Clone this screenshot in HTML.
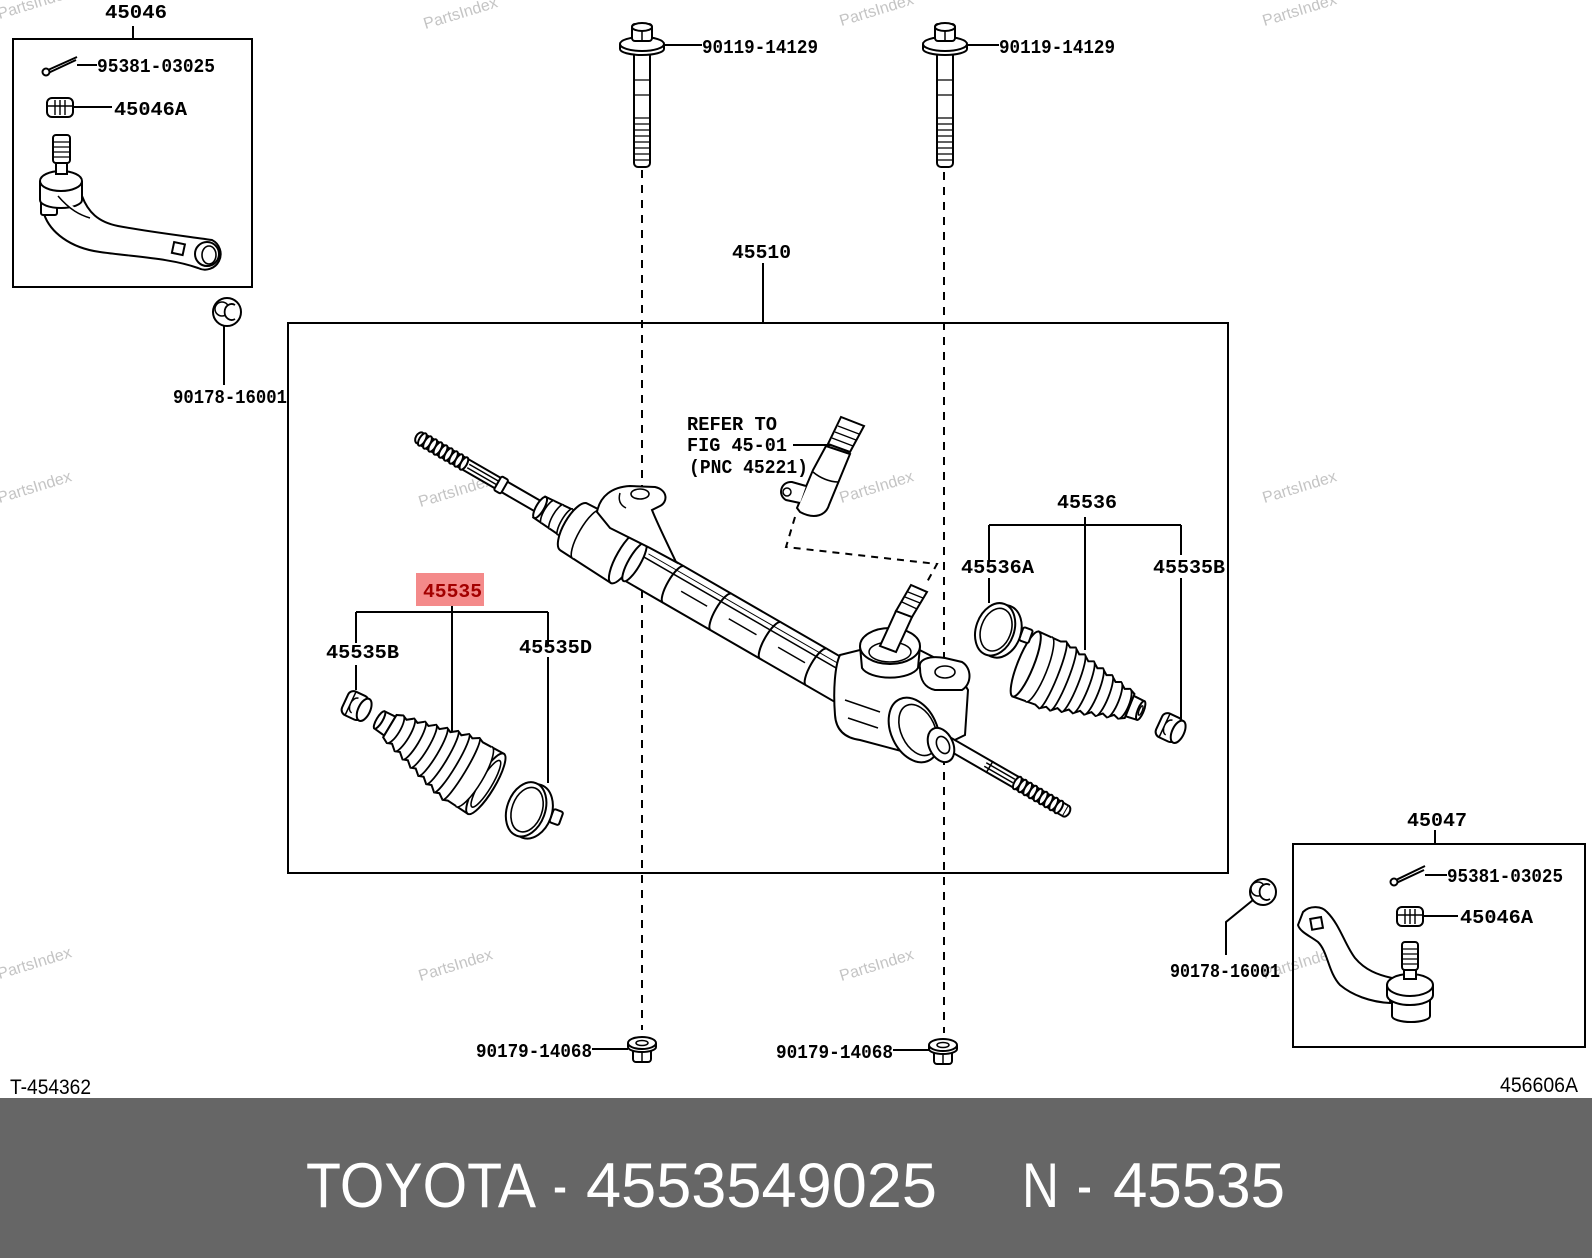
<!DOCTYPE html>
<html><head><meta charset="utf-8"><style>
html,body{margin:0;padding:0;background:#fff;}
body{width:1592px;height:1258px;overflow:hidden;position:relative;}
svg{position:absolute;left:0;top:0;}
.l{font-family:"Liberation Mono",monospace;font-weight:bold;font-size:19px;fill:#000;}
.w{font-family:"Liberation Sans",sans-serif;font-size:16px;fill:#c4c4c4;}
</style></head><body>
<svg width="1592" height="1258" viewBox="0 0 1592 1258" xmlns="http://www.w3.org/2000/svg">
<rect x="0" y="0" width="1592" height="1258" fill="#fff"/>

<!-- watermarks -->
<g class="w" text-anchor="middle">
<text transform="translate(36,8) rotate(-17)">PartsIndex</text>
<text transform="translate(462,18) rotate(-17)">PartsIndex</text>
<text transform="translate(878,15) rotate(-17)">PartsIndex</text>
<text transform="translate(1301,15) rotate(-17)">PartsIndex</text>
<text transform="translate(36,492) rotate(-17)">PartsIndex</text>
<text transform="translate(457,496) rotate(-17)">PartsIndex</text>
<text transform="translate(878,492) rotate(-17)">PartsIndex</text>
<text transform="translate(1301,492) rotate(-17)">PartsIndex</text>
<text transform="translate(36,968) rotate(-17)">PartsIndex</text>
<text transform="translate(457,970) rotate(-17)">PartsIndex</text>
<text transform="translate(878,970) rotate(-17)">PartsIndex</text>
<text transform="translate(1301,968) rotate(-17)">PartsIndex</text>
</g>

<g stroke="#000" stroke-width="2" fill="none">
<!-- boxes -->
<rect x="13" y="39" width="239" height="248"/>
<rect x="288" y="323" width="940" height="550"/>
<rect x="1293" y="844" width="292" height="203"/>
<!-- dashed bolt lines -->
<path d="M642,170 L642,1030" stroke-dasharray="8,7"/>
<path d="M944,172 L944,1033" stroke-dasharray="8,7"/>
<!-- leaders -->
<path d="M133,26 L133,39"/>
<path d="M77,65 L97,65"/>
<path d="M73,107 L112,107"/>
<path d="M224,326 L224,385"/>
<path d="M664,45 L702,45"/>
<path d="M967,45 L999,45"/>
<path d="M763,263 L763,323"/>
<path d="M793,445 L830,445"/>
<path d="M795,517 L786,547 L937,564 L927,582" stroke-dasharray="7,6"/>
<path d="M356,612 L548,612 M452,606 L452,733 M356,612 L356,643 M356,665 L356,690 M548,612 L548,645 M548,657 L548,783"/>
<path d="M989,525 L1181,525 M1085,517 L1085,650 M989,525 L989,560 M989,578 L989,603 M1181,525 L1181,555 M1181,578 L1181,720"/>
<path d="M1435,830 L1435,844"/>
<path d="M1425,875 L1447,875"/>
<path d="M1423,916 L1458,916"/>
<path d="M1226,955 L1226,922 L1253,900"/>
<path d="M592,1049 L628,1049"/>
<path d="M893,1050 L930,1050"/>
</g>

<!-- BOLTS -->
<g stroke="#000" stroke-width="2" fill="#fff">
<g transform="translate(642,0)">
 <rect x="-8" y="50" width="16" height="117" rx="4"/>
 <path d="M-8,118 L8,118 M-8,124 L8,124 M-8,130 L8,130 M-8,136 L8,136 M-8,142 L8,142 M-8,148 L8,148 M-8,154 L8,154 M-8,160 L8,160 M-8,80 L8,80 M-8,95 L8,95" stroke-width="1.3"/>
 <path d="M-22,44 L-22,49 A22,6 0 0 0 22,49 L22,44"/>
 <ellipse cx="0" cy="44" rx="22" ry="7"/>
 <rect x="-10" y="24" width="20" height="17" rx="3"/>
 <ellipse cx="0" cy="27" rx="10" ry="4"/>
 <path d="M0,31 L0,40" stroke-width="1.5"/>
</g>
<g transform="translate(945,0)">
 <rect x="-8" y="50" width="16" height="117" rx="4"/>
 <path d="M-8,118 L8,118 M-8,124 L8,124 M-8,130 L8,130 M-8,136 L8,136 M-8,142 L8,142 M-8,148 L8,148 M-8,154 L8,154 M-8,160 L8,160 M-8,80 L8,80 M-8,95 L8,95" stroke-width="1.3"/>
 <path d="M-22,44 L-22,49 A22,6 0 0 0 22,49 L22,44"/>
 <ellipse cx="0" cy="44" rx="22" ry="7"/>
 <rect x="-10" y="24" width="20" height="17" rx="3"/>
 <ellipse cx="0" cy="27" rx="10" ry="4"/>
 <path d="M0,31 L0,40" stroke-width="1.5"/>
</g>
<!-- bottom nuts -->
<g transform="translate(642,0)">
 <rect x="-9" y="1046" width="18" height="16" rx="3"/>
 <path d="M-14,1043 L-14,1047 A14,5 0 0 0 14,1047 L14,1043"/>
 <ellipse cx="0" cy="1043" rx="14" ry="6"/>
 <ellipse cx="0" cy="1043" rx="6" ry="2.5" stroke-width="1.5"/>
 <path d="M0,1053 L0,1062" stroke-width="1.5"/>
</g>
<g transform="translate(943,2)">
 <rect x="-9" y="1046" width="18" height="16" rx="3"/>
 <path d="M-14,1043 L-14,1047 A14,5 0 0 0 14,1047 L14,1043"/>
 <ellipse cx="0" cy="1043" rx="14" ry="6"/>
 <ellipse cx="0" cy="1043" rx="6" ry="2.5" stroke-width="1.5"/>
 <path d="M0,1053 L0,1062" stroke-width="1.5"/>
</g>

<!-- washers -->
<circle cx="227" cy="312" r="14"/>
<circle cx="222" cy="309" r="7" stroke-width="1.5"/>
<path d="M235,305 A7,8 0 1 0 235,319" stroke-width="1.8"/>
<circle cx="1263" cy="892" r="13"/>
<circle cx="1258" cy="889" r="7" stroke-width="1.5"/>
<path d="M1270,885 A7,8 0 1 0 1270,899" stroke-width="1.8"/>

<!-- cotter pins & small nuts -->
<path d="M48,70 L77,57 M46,74 L76,60" stroke-width="2"/>
<circle cx="46" cy="72" r="3.5"/>
<rect x="47" y="98" width="26" height="19" rx="5"/>
<path d="M55,100 L55,115 M60,100 L60,115 M65,100 L65,115 M48,106 L72,106" stroke-width="1.4"/>
<path d="M1396,880 L1425,866 M1394,884 L1424,870" stroke-width="2"/>
<circle cx="1394" cy="882" r="3.5"/>
<rect x="1397" y="907" width="26" height="19" rx="5"/>
<path d="M1405,909 L1405,924 M1410,909 L1410,924 M1415,909 L1415,924 M1398,915 L1422,915" stroke-width="1.4"/>

<!-- LEFT TIE ROD END (45046) -->
<path d="M44,200 L44,214 C50,232 70,248 100,252 C135,257 170,258 198,268 A14,14 0 0 0 212,240 C185,236 150,232 118,226 C98,222 88,212 82,196 Z"/>
<rect x="41" y="193" width="16" height="22" rx="2"/>
<path d="M40,181 L40,200 A21,8 0 0 0 82,200 L82,181"/>
<ellipse cx="61" cy="181" rx="21" ry="10"/>
<path d="M58,196 C70,210 80,215 90,218" stroke-width="1.5"/>
<rect x="56" y="158" width="11" height="16"/>
<rect x="53" y="135" width="17" height="28" rx="3"/>
<path d="M53,142 L70,142 M53,147 L70,147 M53,152 L70,152 M53,157 L70,157" stroke-width="1.3"/>
<circle cx="207" cy="254" r="12"/>
<ellipse cx="209" cy="255" rx="7" ry="9" stroke-width="1.6"/>
<rect x="173" y="243" width="11" height="11" transform="rotate(12 178 248)"/>

<!-- RIGHT TIE ROD END (45047) -->
<path d="M1303,912 C1310,905 1322,906 1327,912 C1340,925 1345,945 1355,958 C1365,970 1378,975 1392,978 L1390,1003 C1370,1002 1352,995 1340,985 C1328,972 1328,952 1318,942 C1310,936 1300,932 1298,925 Z"/>
<rect x="1311" y="918" width="11" height="11" transform="rotate(-10 1316 923)"/>
<path d="M1392,996 L1392,1016 A19,6 0 0 0 1430,1016 L1430,996"/>
<path d="M1387,985 L1387,995 A23,10 0 0 0 1433,995 L1433,985"/>
<ellipse cx="1410" cy="985" rx="23" ry="11"/>
<rect x="1404" y="965" width="12" height="14"/>
<rect x="1402" y="942" width="16" height="28" rx="3"/>
<path d="M1402,949 L1418,949 M1402,954 L1418,954 M1402,959 L1418,959 M1402,964 L1418,964" stroke-width="1.3"/>

<!-- RACK: left rod, housing, tube -->
<g transform="translate(418,437) rotate(30)">
 <path d="M2,-6 L165,-6 L165,6 L2,6 Z"/>
 <path d="M2,-6 A4,6 0 0 0 2,6"/>
 <ellipse cx="5" cy="0" rx="3" ry="7"/><ellipse cx="11" cy="0" rx="3" ry="7"/><ellipse cx="17" cy="0" rx="3" ry="7"/><ellipse cx="23" cy="0" rx="3" ry="7"/><ellipse cx="29" cy="0" rx="3" ry="7"/><ellipse cx="35" cy="0" rx="3" ry="7"/><ellipse cx="41" cy="0" rx="3" ry="7"/><ellipse cx="47" cy="0" rx="3" ry="7"/><ellipse cx="53" cy="0" rx="3" ry="7"/>
 <path d="M58,-2 L92,-2 M58,2 L92,2" stroke-width="1.5"/>
 <rect x="92" y="-8" width="8" height="16" rx="2"/>
 <path d="M140,-12 L178,-15 L178,15 L140,12 Z"/>
 <ellipse cx="141" cy="0" rx="4" ry="12"/>
 <path d="M150,-13 A4,13 0 0 0 150,13 M160,-14 A4,14 0 0 0 160,14 M170,-15 A4,15 0 0 0 170,15" stroke-width="1.6"/>
 <path d="M180,-27 L240,-30 L240,30 L180,27 A10,27 0 0 1 180,-27 Z"/>
 <path d="M195,-28 A8,28 0 0 0 195,28" stroke-width="1.6"/>
 <rect x="240" y="-21" width="290" height="42"/>
 <ellipse cx="240" cy="0" rx="9" ry="30"/>
 <ellipse cx="250" cy="0" rx="6" ry="22"/>
 <path d="M295,-21 A6,21 0 0 0 295,21 M350,-21 A6,21 0 0 0 350,21 M407,-21 A6,21 0 0 0 407,21 M460,-21 A6,21 0 0 0 460,21" />
 <path d="M255,-9 L525,-9" stroke-width="1.5"/>
 <path d="M258,-14 L520,-14" stroke-width="1"/>
 <path d="M305,2 L335,2 M360,2 L392,2 M417,2 L448,2" stroke-width="1.5"/>
</g>
<!-- left mount bracket -->
<path d="M597,512 C600,496 612,487 630,486 L655,487 C668,490 668,502 660,506 L652,510 C658,525 668,545 676,562 L650,548 L610,528 Z"/>
<ellipse cx="640" cy="494" rx="9" ry="5" stroke-width="1.6"/>
<path d="M620,493 C618,500 620,505 626,508" stroke-width="1.5"/>

<!-- right gear housing -->
<path d="M840,655 C835,665 833,690 835,715 C836,730 845,738 860,740 L905,752 L930,752 L965,735 L968,690 L955,668 L900,640 Z"/>
<path d="M845,700 L880,712 M848,718 L878,728" stroke-width="1.5"/>
<path d="M920,668 C918,660 928,655 945,658 L962,662 C972,668 972,684 962,690 L935,690 C925,688 920,680 920,668 Z"/>
<ellipse cx="945" cy="672" rx="10" ry="6" stroke-width="1.6"/>
<path d="M860,646 L862,668 A29,13 0 0 0 918,668 L920,646"/>
<ellipse cx="890" cy="646" rx="30" ry="18"/>
<ellipse cx="890" cy="652" rx="21" ry="10" stroke-width="1.5"/>
<path d="M880,646 L896,652 L912,617 L896,611 Z"/>
<path d="M896,611 L912,617 L927,592 L911,585 Z"/>
<path d="M902,602 L917,609 M905,597 L920,603 M908,592 L923,598" stroke-width="1.3"/>
<ellipse cx="914" cy="730" rx="23" ry="34" transform="rotate(-25 914 730)"/>
<ellipse cx="918" cy="730" rx="17" ry="27" transform="rotate(-25 918 730)" stroke-width="1.6"/>

<!-- right rod -->
<g transform="translate(418,437) rotate(30)">
 <path d="M598,-6 L748,-6 L748,6 L598,6 Z"/>
 <path d="M748,-6 A4,6 0 0 1 748,6"/>
 <ellipse cx="692" cy="0" rx="3" ry="7"/><ellipse cx="698" cy="0" rx="3" ry="7"/><ellipse cx="704" cy="0" rx="3" ry="7"/><ellipse cx="710" cy="0" rx="3" ry="7"/><ellipse cx="716" cy="0" rx="3" ry="7"/><ellipse cx="722" cy="0" rx="3" ry="7"/><ellipse cx="728" cy="0" rx="3" ry="7"/><ellipse cx="734" cy="0" rx="3" ry="7"/><ellipse cx="740" cy="0" rx="3" ry="7"/>
 <path d="M655,-2 L688,-2 M655,2 L688,2" stroke-width="1.5"/>
 <path d="M660,-7 L660,7" stroke-width="1.5"/>
</g>
<ellipse cx="941" cy="745" rx="12" ry="18" transform="rotate(-25 941 745)"/>
<ellipse cx="943" cy="745" rx="6" ry="9" transform="rotate(-25 943 745)" stroke-width="1.6"/>

<!-- pinion (refer to fig) -->
<path d="M826,446 L850,454 L829,505 C826,515 815,520 800,512 L797,508 L813,470 Z"/>
<path d="M813,472 C820,478 830,482 838,482" stroke-width="1.5"/>
<path d="M828,444 L850,452 L864,426 L841,417 Z"/>
<path d="M835,432 L856,440 M838,426 L859,434 M832,438 L853,446" stroke-width="1.3"/>
<path d="M806,486 L792,482 C781,481 777,495 786,500 L800,503" />
<circle cx="787" cy="492" r="4" stroke-width="1.5"/>

<!-- LEFT BOOT -->
<g transform="translate(383,722) rotate(31)">
 <path d="M-4,-10 L8,-11 L8,11 L-4,10 Z"/>
 <ellipse cx="-4" cy="0" rx="3" ry="10"/>
 <path d="M8,-13 L14,-16 L19,-14 L25,-19 L30,-17 L36,-22 L41,-20 L47,-25 L52,-23 L58,-28 L63,-26 L69,-31 L74,-29 L80,-34 L85,-32 L91,-36 L96,-34 L120,-35 L120,35 L96,34 L91,36 L85,32 L80,34 L74,29 L69,31 L63,26 L58,28 L52,23 L47,25 L41,20 L36,22 L30,17 L25,19 L19,14 L14,16 L8,13 Z"/>
 <path d="M14,-16 A5,16 0 0 1 14,16 M25,-19 A5,19 0 0 1 25,19 M36,-22 A5,22 0 0 1 36,22 M47,-25 A5,25 0 0 1 47,25 M58,-28 A5,28 0 0 1 58,28 M69,-31 A5,31 0 0 1 69,31 M80,-34 A5,34 0 0 1 80,34 M91,-36 A5,36 0 0 1 91,36" stroke-width="1.8"/>
 <ellipse cx="120" cy="0" rx="9" ry="35"/>
 <ellipse cx="120" cy="0" rx="6" ry="27" stroke-width="1.6"/>
 <path d="M106,-35 A9,35 0 0 1 106,35" stroke-width="1.6"/>
</g>
<!-- RIGHT BOOT -->
<g transform="translate(1137,709) rotate(202)">
 <path d="M-4,-10 L8,-11 L8,11 L-4,10 Z"/>
 <ellipse cx="-4" cy="0" rx="3" ry="10"/>
 <ellipse cx="-4" cy="0" rx="1.5" ry="5" stroke-width="1.3"/>
 <path d="M8,-13 L14,-16 L19,-14 L25,-19 L30,-17 L36,-22 L41,-20 L47,-25 L52,-23 L58,-28 L63,-26 L69,-31 L74,-29 L80,-34 L85,-32 L91,-36 L96,-34 L120,-35 L120,35 L96,34 L91,36 L85,32 L80,34 L74,29 L69,31 L63,26 L58,28 L52,23 L47,25 L41,20 L36,22 L30,17 L25,19 L19,14 L14,16 L8,13 Z"/>
 <path d="M14,-16 A5,16 0 0 0 14,16 M25,-19 A5,19 0 0 0 25,19 M36,-22 A5,22 0 0 0 36,22 M47,-25 A5,25 0 0 0 47,25 M58,-28 A5,28 0 0 0 58,28 M69,-31 A5,31 0 0 0 69,31 M80,-34 A5,34 0 0 0 80,34 M91,-36 A5,36 0 0 0 91,36" stroke-width="1.8"/>
 <ellipse cx="120" cy="0" rx="8" ry="35"/>
 <path d="M106,-35 A8,35 0 0 0 106,35" stroke-width="1.6"/>
</g>

<!-- clamps -->
<g transform="translate(528,810) rotate(20)">
 <rect x="24" y="-10" width="10" height="14" rx="2"/>
 <ellipse cx="4" cy="0" rx="20" ry="28"/>
 <ellipse cx="-2" cy="0" rx="19" ry="28"/>
 <ellipse cx="-1" cy="0" rx="15" ry="23" stroke-width="1.6"/>
</g>
<g transform="translate(997,630) rotate(20)">
 <rect x="24" y="-12" width="10" height="14" rx="2"/>
 <ellipse cx="4" cy="0" rx="20" ry="27"/>
 <ellipse cx="-2" cy="0" rx="19" ry="27"/>
 <ellipse cx="-1" cy="0" rx="15" ry="22" stroke-width="1.6"/>
</g>
<!-- clips 45535B -->
<g transform="translate(356,706) rotate(25)">
 <rect x="-12" y="-13" width="22" height="26" rx="6"/>
 <ellipse cx="9" cy="0" rx="6" ry="12"/>
 <path d="M-6,-13 L-6,13 M-1,-8 A5,8 0 1 0 -1,8" stroke-width="1.5"/>
</g>
<g transform="translate(1170,728) rotate(25)">
 <rect x="-12" y="-13" width="22" height="26" rx="6"/>
 <ellipse cx="9" cy="0" rx="6" ry="12"/>
 <path d="M-6,-13 L-6,13 M-1,-8 A5,8 0 1 0 -1,8" stroke-width="1.5"/>
</g>
</g>

<!-- highlight -->
<rect x="416" y="573" width="68" height="33" fill="#f48a8a"/>

<!-- labels -->
<g class="l" lengthAdjust="spacingAndGlyphs">
<text x="105" y="18" textLength="62" lengthAdjust="spacingAndGlyphs">45046</text>
<text x="97" y="72" textLength="118" lengthAdjust="spacingAndGlyphs">95381-03025</text>
<text x="114" y="115" textLength="73" lengthAdjust="spacingAndGlyphs">45046A</text>
<text x="173" y="403" textLength="114" lengthAdjust="spacingAndGlyphs">90178-16001</text>
<text x="702" y="53" textLength="116" lengthAdjust="spacingAndGlyphs">90119-14129</text>
<text x="999" y="53" textLength="116" lengthAdjust="spacingAndGlyphs">90119-14129</text>
<text x="732" y="258" textLength="59" lengthAdjust="spacingAndGlyphs">45510</text>
<text x="687" y="430" textLength="90" lengthAdjust="spacingAndGlyphs">REFER TO</text>
<text x="687" y="451" textLength="100" lengthAdjust="spacingAndGlyphs">FIG 45-01</text>
<text x="689" y="473" textLength="119" lengthAdjust="spacingAndGlyphs">(PNC 45221)</text>
<text x="423" y="597" textLength="59" lengthAdjust="spacingAndGlyphs" fill="#a30000" style="fill:#a30000">45535</text>
<text x="326" y="658" textLength="73" lengthAdjust="spacingAndGlyphs">45535B</text>
<text x="519" y="653" textLength="73" lengthAdjust="spacingAndGlyphs">45535D</text>
<text x="1057" y="508" textLength="60" lengthAdjust="spacingAndGlyphs">45536</text>
<text x="961" y="573" textLength="73" lengthAdjust="spacingAndGlyphs">45536A</text>
<text x="1153" y="573" textLength="72" lengthAdjust="spacingAndGlyphs">45535B</text>
<text x="1407" y="826" textLength="60" lengthAdjust="spacingAndGlyphs">45047</text>
<text x="1447" y="882" textLength="116" lengthAdjust="spacingAndGlyphs">95381-03025</text>
<text x="1460" y="923" textLength="73" lengthAdjust="spacingAndGlyphs">45046A</text>
<text x="1170" y="977" textLength="110" lengthAdjust="spacingAndGlyphs">90178-16001</text>
<text x="476" y="1057" textLength="116" lengthAdjust="spacingAndGlyphs">90179-14068</text>
<text x="776" y="1058" textLength="117" lengthAdjust="spacingAndGlyphs">90179-14068</text>
</g>
<g style="font-family:'Liberation Sans',sans-serif;font-size:21px;fill:#000">
<text x="10" y="1094" textLength="81" lengthAdjust="spacingAndGlyphs">T-454362</text>
<text x="1500" y="1092" textLength="78" lengthAdjust="spacingAndGlyphs">456606A</text>
</g>

<!-- bottom bar -->
<rect x="0" y="1098" width="1592" height="160" fill="#666666"/>
<g style="font-family:'Liberation Sans',sans-serif;font-size:63px;fill:#fff">
<text x="306" y="1207" textLength="230" lengthAdjust="spacingAndGlyphs">TOYOTA</text>
<text x="553" y="1207" textLength="14" lengthAdjust="spacingAndGlyphs">-</text>
<text x="586" y="1207" textLength="351" lengthAdjust="spacingAndGlyphs">4553549025</text>
<text x="1022" y="1207" textLength="37" lengthAdjust="spacingAndGlyphs">N</text>
<text x="1077" y="1207" textLength="15" lengthAdjust="spacingAndGlyphs">-</text>
<text x="1113" y="1207" textLength="172" lengthAdjust="spacingAndGlyphs">45535</text>
</g>
</svg>
</body></html>
